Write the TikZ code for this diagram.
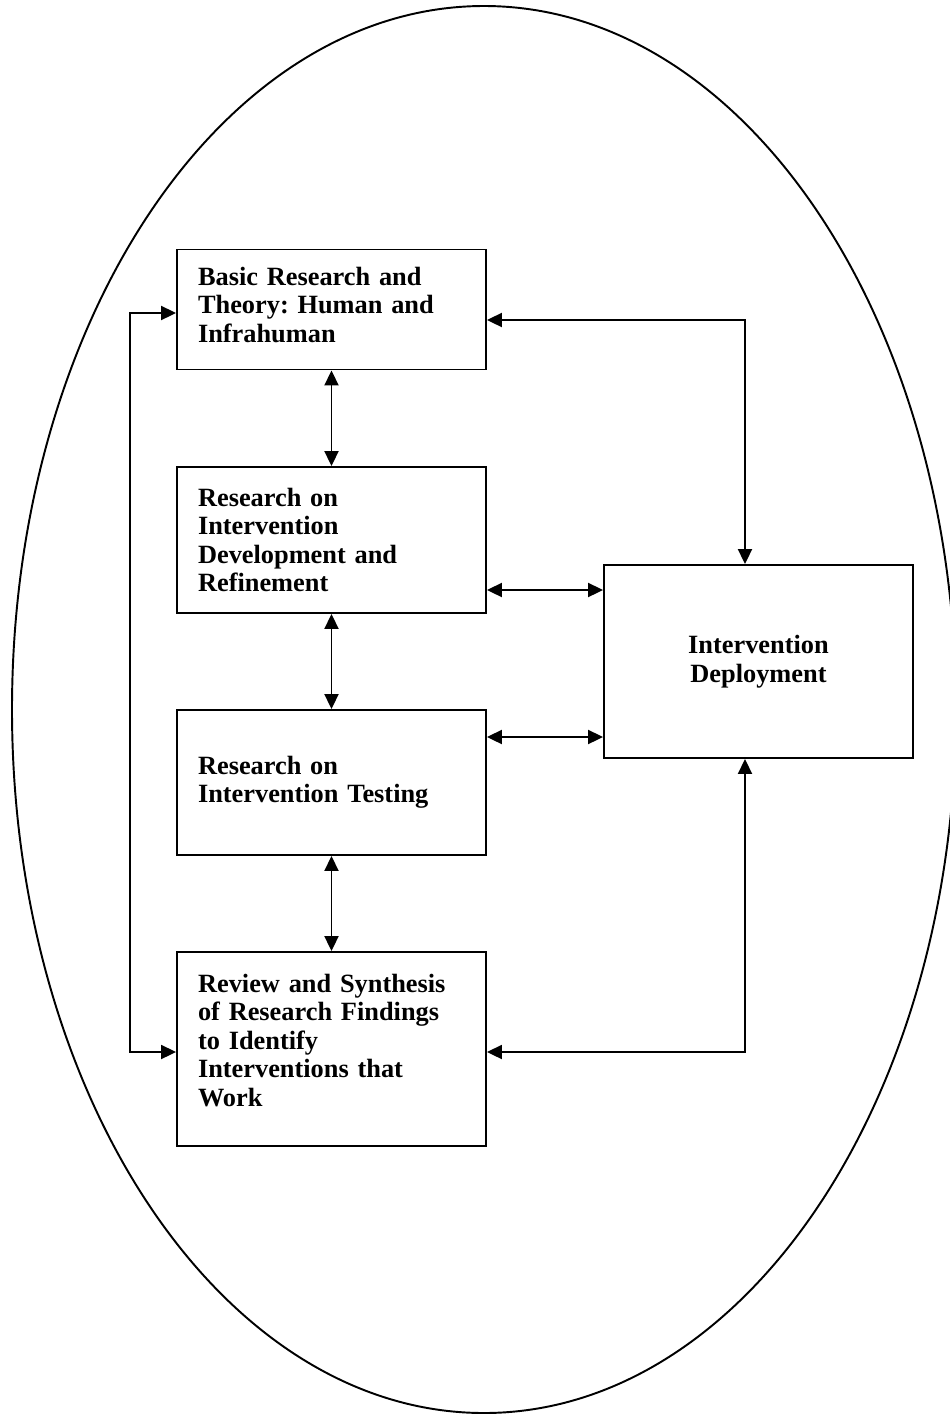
\documentclass[tikz,border=0pt]{standalone}
\usepackage{fontspec}
\setmainfont{Liberation Serif}
\frenchspacing
\usetikzlibrary{arrows.meta, positioning}
\tikzset{
    box/.style={draw, rectangle, minimum width=6.18cm, text width=5.34cm,
        align=left, inner xsep=0pt, font=\fontsize{15}{16.2}\selectfont\bfseries},
    deploy/.style={box, text width=5.8cm, align=center},
    link/.style={{Triangle[length=0.3cm, width=0.28cm]}-{Triangle[length=0.3cm, width=0.28cm]}},
}
\begin{document}
\begin{tikzpicture}[x=0.02cm, y=-0.02cm, line width=1.1pt]
    \useasboundingbox (0,0) rectangle (950,1414);
    \draw (484,709.5) ellipse [x radius=472, y radius=703.5];

    \node[box, minimum height=2.4cm, text depth=1.34cm] (basic) at (331.5,309.5)
        {Basic Research and\\Theory: Human and\\Infrahuman};
    \node[box, minimum height=2.92cm] (devel) at (331.5,540)
        {Research on\\Intervention\\Development and\\Refinement};
    \node[box, minimum height=2.9cm] (testing) at (331.5,782.5)
        {Research on\\Intervention Testing};
    \node[box, minimum height=3.88cm, text depth=2.64cm] (review) at (331.5,1049)
        {Review and Synthesis\\of Research Findings\\to Identify\\Interventions that\\Work};
    \node[deploy, minimum height=3.86cm] (deploy) at (758.5,661.5)
        {Intervention\\Deployment};

    % corners of the outer loops
    \coordinate (lt) at (130,313);
    \coordinate (lb) at (130,1052);
    \coordinate (rt) at (745,320);
    \coordinate (rb) at (745,1052);
    \coordinate (m1) at (545,590);
    \coordinate (m2) at (545,737);

    \draw[link] (basic.south) -- (devel.north);
    \draw[link] (devel.south) -- (testing.north);
    \draw[link] (testing.south) -- (review.north);

    \draw[link] (basic.west |- lt) -- (lt) -- (lb) -- (review.west |- lb);
    \draw[link] (basic.east |- rt) -- (rt) -- (rt |- deploy.north);
    \draw[link] (review.east |- rb) -- (rb) -- (rb |- deploy.south);

    \draw[link] (devel.east |- m1) -- (deploy.west |- m1);
    \draw[link] (testing.east |- m2) -- (deploy.west |- m2);
\end{tikzpicture}
\end{document}
